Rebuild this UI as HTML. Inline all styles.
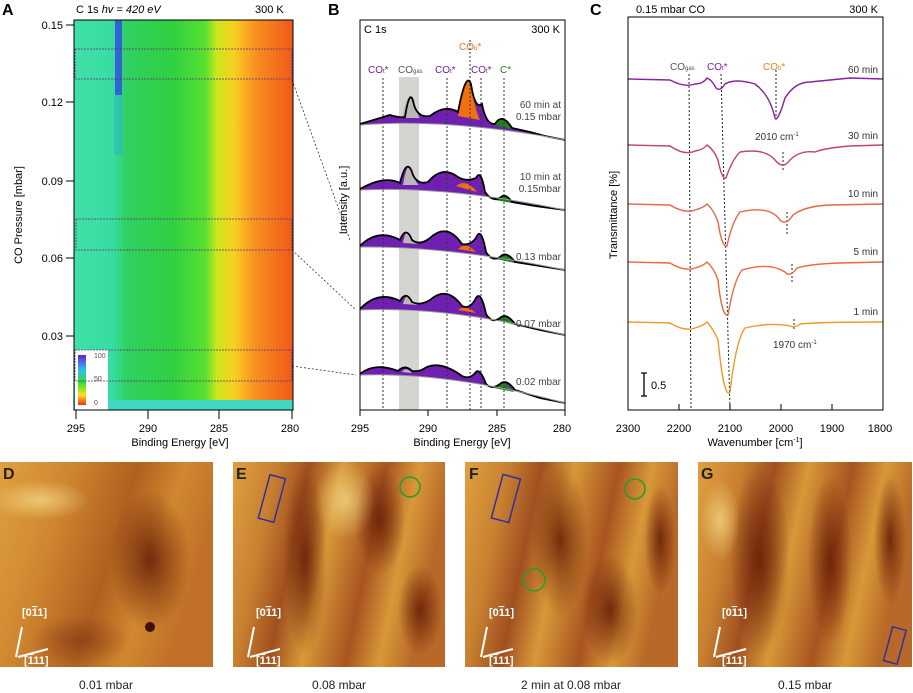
<!DOCTYPE html>
<html><head><meta charset="utf-8"><style>
body{margin:0;background:#fff;}
svg{display:block;font-family:"Liberation Sans",sans-serif;}
</style></head><body>
<svg width="913" height="693" viewBox="0 0 913 693" xmlns="http://www.w3.org/2000/svg">
<defs>
<linearGradient id="hm" x1="0" x2="1" y1="0" y2="0">
<stop offset="0" stop-color="#40e0a8"/>
<stop offset="0.18" stop-color="#38dca0"/>
<stop offset="0.24" stop-color="#30d060"/>
<stop offset="0.45" stop-color="#30d040"/>
<stop offset="0.6" stop-color="#58e030"/>
<stop offset="0.65" stop-color="#c8e820"/>
<stop offset="0.73" stop-color="#f8d020"/>
<stop offset="0.83" stop-color="#f89020"/>
<stop offset="1" stop-color="#f05818"/>
</linearGradient>
<linearGradient id="cb" x1="0" x2="0" y1="0" y2="1">
<stop offset="0" stop-color="#6020d0"/><stop offset="0.3" stop-color="#30c0f0"/><stop offset="0.55" stop-color="#30e030"/><stop offset="0.8" stop-color="#f8e020"/><stop offset="1" stop-color="#f03010"/>
</linearGradient>
<linearGradient id="stm1" x1="0" x2="1" y1="0" y2="0.3">
<stop offset="0" stop-color="#e0a040"/><stop offset="0.3" stop-color="#d08830"/><stop offset="0.6" stop-color="#b06020"/><stop offset="0.8" stop-color="#d08830"/><stop offset="1" stop-color="#c07028"/>
</linearGradient>
<linearGradient id="stm2" x1="0" x2="1" y1="0" y2="0.2">
<stop offset="0" stop-color="#e0a040"/><stop offset="0.2" stop-color="#c88030"/><stop offset="0.35" stop-color="#a05020"/><stop offset="0.5" stop-color="#d89838"/><stop offset="0.7" stop-color="#a85420"/><stop offset="0.85" stop-color="#d89838"/><stop offset="1" stop-color="#b86828"/>
</linearGradient>
<radialGradient id="dk"><stop offset="0" stop-color="#6a2006" stop-opacity="0.9"/><stop offset="1" stop-color="#6a2006" stop-opacity="0"/></radialGradient>
<radialGradient id="lt"><stop offset="0" stop-color="#f8e090" stop-opacity="0.7"/><stop offset="1" stop-color="#f8e090" stop-opacity="0"/></radialGradient>
</defs>

<!-- Panel A -->
<text x="2" y="15" font-size="16" font-weight="bold">A</text>
<text x="76" y="13" font-size="11">C 1s  <tspan font-style="italic">hv = 420 eV</tspan></text>
<text x="255" y="13" font-size="11">300 K</text>
<rect x="74" y="20" width="219" height="390" fill="url(#hm)"/>
<rect x="115" y="20" width="7" height="75" fill="#3050e0" opacity="0.85"/>
<rect x="114" y="95" width="9" height="60" fill="#30a0f0" opacity="0.35"/>
<rect x="108" y="400" width="185" height="10" fill="#40d8c0"/>
<rect x="75" y="350" width="33" height="60" fill="#fff"/>
<rect x="78" y="355" width="8" height="50" fill="url(#cb)"/>
<text x="94" y="358" font-size="7" fill="#555">100</text>
<text x="94" y="381" font-size="7" fill="#555">50</text>
<text x="94" y="405" font-size="7" fill="#555">0</text>
<g fill="none" stroke="#603080" stroke-dasharray="2,1" stroke-width="0.8">
<rect x="75" y="49" width="217" height="30"/>
<rect x="76" y="219" width="216" height="31"/>
<rect x="75" y="350" width="217" height="31"/>
</g>
<g fill="none" stroke="#333" stroke-dasharray="2,2" stroke-width="0.8">
<path d="M292 80 L350 240"/><path d="M292 250 L356 310"/><path d="M292 366 L356 375"/>
</g>
<rect x="74" y="20" width="219" height="390" fill="none" stroke="#000"/>
<g stroke="#000">
<path d="M66 25h8M66 102h8M66 181h8M66 258h8M66 336h8"/>
<path d="M76 410v9M148 410v9M219 410v9M292 410v9"/>
</g>
<g font-size="11" text-anchor="end"><text x="63" y="29">0.15</text><text x="63" y="106">0.12</text><text x="63" y="185">0.09</text><text x="63" y="262">0.06</text><text x="63" y="340">0.03</text></g>
<g font-size="11" text-anchor="middle"><text x="76" y="432">295</text><text x="148" y="432">290</text><text x="219" y="432">285</text><text x="290" y="432">280</text></g>
<text x="180" y="446" font-size="11" text-anchor="middle">Binding Energy [eV]</text>
<text transform="translate(22,215) rotate(-90)" font-size="11" text-anchor="middle">CO Pressure [mbar]</text>

<!-- Panel B -->
<text x="328" y="15" font-size="16" font-weight="bold">B</text>
<rect x="399" y="77" width="20" height="333" fill="#d4d4d0"/>
<g font-size="10">
<text x="368" y="73" fill="#7020a0">CO<tspan font-size="6">t</tspan>*</text>
<text x="398" y="73" fill="#555">CO<tspan font-size="6">gas</tspan></text>
<text x="435" y="73" fill="#7020a0">CO<tspan font-size="6">t</tspan>*</text>
<text x="459" y="50" fill="#f07020">CO<tspan font-size="6">b</tspan>*</text>
<text x="471" y="73" fill="#7020a0">CO<tspan font-size="6">t</tspan>*</text>
<text x="500" y="73" fill="#208020">C*</text>
</g>
<!-- spectra fills: curve + reversed baseline -->
<g stroke="none">
<path d="M360 124 Q380 118 390 115 Q400 118 405 117 Q410 85 414 105 Q418 118 430 116 Q445 104 458 112 Q466 70 471 84 Q475 110 482 104 Q486 125 495 124 Q502 112 512 128 L565 140 Q450 118 360 125 Z" fill="#7020b0"/>
<path d="M360 189 Q385 175 400 183 Q407 155 413 175 Q418 185 428 182 Q442 165 458 177 Q466 182 476 178 Q481 168 485 192 Q492 202 500 198 Q505 192 512 202 L565 210 Q450 186 360 190 Z" fill="#7020b0"/>
<path d="M360 246 Q378 228 400 240 Q406 225 412 240 Q420 246 430 238 Q447 222 462 244 Q470 246 476 238 Q481 225 486 252 Q492 262 500 257 Q506 250 515 262 L565 270 Q450 246 360 247 Z" fill="#7020b0"/>
<path d="M360 309 Q378 290 400 301 Q406 290 412 302 Q420 306 430 300 Q447 285 462 306 Q470 310 476 298 Q481 290 486 314 Q492 324 500 318 Q506 312 515 324 L565 335 Q450 306 360 310 Z" fill="#7020b0"/>
<path d="M360 374 Q375 362 398 371 Q405 364 412 371 Q420 372 425 368 Q440 360 462 376 Q470 380 476 372 Q480 368 486 384 Q492 390 500 384 Q506 378 515 390 L565 403 Q450 372 360 375 Z" fill="#7020b0"/>
</g>
<!-- gray/orange/green/white overlays -->
<g stroke="none">
<rect x="360" y="100" width="30" height="30" fill="#fff" opacity="0"/>
<path d="M402 118 Q409 85 414 100 Q418 117 420 118 Z" fill="#b8b8b8"/>
<path d="M458 116 Q466 70 471 84 Q475 110 480 120 Z" fill="#f07010"/>
<path d="M493 125 Q502 112 512 129 Z" fill="#208020"/>
<path d="M403 185 Q408 155 413 172 Q416 184 419 185 Z" fill="#b8b8b8"/>
<path d="M456 186 Q466 178 477 192 Z" fill="#f07010"/>
<path d="M495 200 Q504 191 512 203 Z" fill="#208020"/>
<path d="M403 243 Q406 226 411 236 Q414 243 418 244 Z" fill="#b8b8b8"/>
<path d="M458 249 Q466 241 476 252 Z" fill="#f07010"/>
<path d="M496 259 Q505 250 515 263 Z" fill="#208020"/>
<path d="M403 304 Q406 292 411 299 Q414 304 418 305 Z" fill="#b8b8b8"/>
<path d="M458 310 Q466 304 476 313 Z" fill="#f07010"/>
<path d="M496 320 Q505 312 515 325 Z" fill="#208020"/>
<path d="M402 372 Q406 366 412 373 Z" fill="#b8b8b8"/>
<path d="M494 388 Q504 378 514 392 Z" fill="#208020"/>
</g>
<g stroke="#333" stroke-dasharray="2,2" fill="none">
<path d="M383 78V410M447 78V410M470 40V410M481 78V410M504 78V410"/>
</g>
<g stroke-width="1.8" fill="none" stroke="#000">
<path d="M360 124 Q380 118 390 115 Q400 118 405 117 Q410 85 414 105 Q418 118 430 116 Q445 104 458 112 Q466 70 471 84 Q475 110 482 104 Q486 125 495 124 Q502 112 512 128 L530 132 L545 136 L565 140"/>
<path d="M360 125 Q450 118 565 140" stroke="#999" stroke-width="1"/>
<path d="M360 189 Q385 175 400 183 Q407 155 413 175 Q418 185 428 182 Q442 165 458 177 Q466 182 476 178 Q481 168 485 192 Q492 202 500 198 Q505 192 512 202 L535 206 L565 210"/>
<path d="M360 190 Q450 186 565 210" stroke="#999" stroke-width="1"/>
<path d="M360 246 Q378 228 400 240 Q406 225 412 240 Q420 246 430 238 Q447 222 462 244 Q470 246 476 238 Q481 225 486 252 Q492 262 500 257 Q506 250 515 262 L540 266 L565 270"/>
<path d="M360 247 Q450 246 565 270" stroke="#999" stroke-width="1"/>
<path d="M360 309 Q378 290 400 301 Q406 290 412 302 Q420 306 430 300 Q447 285 462 306 Q470 310 476 298 Q481 290 486 314 Q492 324 500 318 Q506 312 515 324 L540 330 L565 335"/>
<path d="M360 310 Q450 306 565 335" stroke="#999" stroke-width="1"/>
<path d="M360 374 Q375 362 398 371 Q405 364 412 371 Q420 372 425 368 Q440 360 462 376 Q470 380 476 372 Q480 368 486 384 Q492 390 500 384 Q506 378 515 390 L540 398 L565 403"/>
<path d="M360 375 Q450 372 565 403" stroke="#999" stroke-width="1"/>
</g>
<g font-size="10" fill="#444" text-anchor="end">
<text x="561" y="108">60 min at</text><text x="561" y="120">0.15 mbar</text>
<text x="561" y="180">10 min at</text><text x="561" y="192">0.15mbar</text>
<text x="561" y="260">0.13 mbar</text>
<text x="561" y="327">0.07 mbar</text>
<text x="561" y="385">0.02 mbar</text>
</g>
<rect x="360" y="20" width="205" height="390" fill="none" stroke="#000"/>
<text x="364" y="33" font-size="11">C 1s</text>
<text x="560" y="33" font-size="11" text-anchor="end">300 K</text>
<text transform="translate(347,200) rotate(-90)" font-size="11" text-anchor="middle">Intensity [a.u.]</text>
<g stroke="#000"><path d="M360 410v6M428 410v6M497 410v6M565 410v6"/></g>
<g font-size="11" text-anchor="middle"><text x="360" y="432">295</text><text x="428" y="432">290</text><text x="497" y="432">285</text><text x="562" y="432">280</text></g>
<text x="462" y="446" font-size="11" text-anchor="middle">Binding Energy [eV]</text>

<!-- Panel C -->
<text x="590" y="15" font-size="16" font-weight="bold">C</text>
<text x="636" y="13" font-size="11">0.15 mbar CO</text>
<text x="878" y="13" font-size="11" text-anchor="end">300 K</text>
<g stroke="#222" stroke-dasharray="2,2" fill="none">
<path d="M689 74L691 410M721 74L730 410M776 70V122M783 152V170M787 212V235M792 264V284M794 319V330"/>
</g>
<g font-size="10">
<text x="670" y="70" fill="#555">CO<tspan font-size="6">gas</tspan></text>
<text x="707" y="70" fill="#8020a0">CO<tspan font-size="6">t</tspan>*</text>
<text x="763" y="70" fill="#f08020">CO<tspan font-size="6">b</tspan>*</text>
<text x="755" y="140" fill="#333">2010 cm<tspan font-size="6" dy="-4">-1</tspan></text>
<text x="773" y="348" fill="#333">1970 cm<tspan font-size="6" dy="-4">-1</tspan></text>
</g>
<g font-size="10" fill="#333" text-anchor="end">
<text x="878" y="73">60 min</text><text x="878" y="139">30 min</text><text x="878" y="197">10 min</text><text x="878" y="255">5 min</text><text x="878" y="315">1 min</text>
</g>
<g fill="none" stroke-width="1.4">
<path d="M628 79 L670 80 Q685 88 695 84 Q703 84 707 78 Q712 80 716 88 Q720 92 725 84 Q735 78 755 84 Q770 95 775 118 Q778 122 785 98 Q795 82 810 82 L850 78 L883 79" stroke="#8a20a0"/>
<path d="M628 145 L670 146 Q685 156 695 151 Q703 150 707 145 Q714 150 718 160 Q722 180 726 178 Q732 160 740 152 Q765 148 775 160 Q783 170 790 160 Q800 150 815 152 Q825 148 850 146 L883 145" stroke="#c04860"/>
<path d="M628 204 L670 205 Q685 214 695 210 Q703 208 707 204 Q714 210 718 222 Q722 248 727 246 Q732 222 740 212 Q770 205 780 220 Q786 226 793 215 Q805 206 830 205 L883 204" stroke="#e06848"/>
<path d="M628 262 L670 263 Q685 272 695 268 Q703 266 707 262 Q714 268 718 280 Q722 318 728 315 Q734 280 742 270 Q770 262 785 272 Q790 278 797 268 Q810 264 840 263 L883 262" stroke="#e86a40"/>
<path d="M628 322 L670 323 Q685 332 695 328 Q703 326 707 322 Q714 330 718 340 Q724 400 730 392 Q736 340 745 328 Q770 322 790 326 Q795 328 800 324 Q820 322 883 322" stroke="#f0982a"/>
</g>
<path d="M644 373v23M641 373h6M641 396h6" stroke="#000" stroke-width="1.3"/>
<text x="651" y="389" font-size="11">0.5</text>
<rect x="628" y="17" width="255" height="393" fill="none" stroke="#000"/>
<g stroke="#000"><path d="M628 410v-6M679 410v-6M730 410v-6M781 410v-6M832 410v-6M883 410v-6"/></g>
<g font-size="11" text-anchor="middle"><text x="628" y="432">2300</text><text x="679" y="432">2200</text><text x="730" y="432">2100</text><text x="781" y="432">2000</text><text x="832" y="432">1900</text><text x="880" y="432">1800</text></g>
<text x="755" y="446" font-size="11" text-anchor="middle">Wavenumber [cm<tspan font-size="7" dy="-4">-1</tspan><tspan dy="4">]</tspan></text>
<text transform="translate(617,215) rotate(-90)" font-size="11" text-anchor="middle">Transmittance [%]</text>

<!-- STM images -->
<g>
<rect x="0" y="462" width="213" height="205" fill="url(#stm1)"/>
<ellipse cx="150" cy="560" rx="40" ry="70" fill="url(#dk)"/>
<ellipse cx="80" cy="640" rx="50" ry="25" fill="url(#dk)" opacity="0.5"/>
<ellipse cx="40" cy="500" rx="50" ry="20" fill="url(#lt)"/>
<circle cx="150" cy="627" r="5" fill="#401000"/>
</g>
<g>
<rect x="233" y="462" width="212" height="205" fill="url(#stm2)"/>
<ellipse cx="305" cy="560" rx="22" ry="95" fill="url(#dk)"/>
<ellipse cx="380" cy="520" rx="25" ry="55" fill="url(#dk)"/>
<ellipse cx="420" cy="610" rx="22" ry="45" fill="url(#dk)"/>
<ellipse cx="345" cy="500" rx="30" ry="40" fill="url(#lt)"/>
<rect x="264" y="476" width="16" height="45" transform="rotate(15 272 498)" fill="none" stroke="#3030a0" stroke-width="1.5"/>
<circle cx="410" cy="487" r="10" fill="none" stroke="#20a030" stroke-width="1.5"/>
</g>
<g>
<rect x="465" y="462" width="213" height="205" fill="url(#stm2)"/>
<ellipse cx="560" cy="540" rx="28" ry="75" fill="url(#dk)"/>
<ellipse cx="610" cy="610" rx="28" ry="55" fill="url(#dk)"/>
<ellipse cx="660" cy="540" rx="16" ry="55" fill="url(#dk)"/>
<rect x="497" y="476" width="18" height="45" transform="rotate(15 506 498)" fill="none" stroke="#3030a0" stroke-width="1.5"/>
<circle cx="635" cy="489" r="10" fill="none" stroke="#20a030" stroke-width="1.5"/>
<circle cx="534" cy="580" r="11" fill="none" stroke="#20a030" stroke-width="1.5"/>
</g>
<g>
<rect x="698" y="462" width="214" height="205" fill="url(#stm2)"/>
<ellipse cx="760" cy="560" rx="30" ry="95" fill="url(#dk)"/>
<ellipse cx="830" cy="560" rx="22" ry="85" fill="url(#dk)"/>
<ellipse cx="890" cy="540" rx="16" ry="65" fill="url(#dk)"/>
<ellipse cx="720" cy="520" rx="20" ry="40" fill="url(#lt)"/>
<rect x="888" y="628" width="14" height="35" transform="rotate(15 895 645)" fill="none" stroke="#3030a0" stroke-width="1.5"/>
</g>
<g font-size="16" font-weight="bold" fill="#222"><text x="3" y="479">D</text><text x="236" y="479">E</text><text x="469" y="479">F</text><text x="701" y="479">G</text></g>
<g stroke="#fff" stroke-width="2" fill="none">
<path d="M16 657L22 627M18 657L48 649"/><path d="M248 657L254 627M250 657L280 649"/><path d="M481 657L487 627M483 657L513 649"/><path d="M714 657L720 627M716 657L746 649"/>
</g>
<g font-size="11" font-weight="bold" fill="#fff">
<text x="22" y="616">[0<tspan text-decoration="overline">1</tspan>1]</text><text x="24" y="664">[<tspan text-decoration="overline">1</tspan>11]</text>
<text x="256" y="616">[0<tspan text-decoration="overline">1</tspan>1]</text><text x="256" y="664">[<tspan text-decoration="overline">1</tspan>11]</text>
<text x="489" y="616">[0<tspan text-decoration="overline">1</tspan>1]</text><text x="489" y="664">[<tspan text-decoration="overline">1</tspan>11]</text>
<text x="722" y="616">[0<tspan text-decoration="overline">1</tspan>1]</text><text x="722" y="664">[<tspan text-decoration="overline">1</tspan>11]</text>
</g>
<g font-size="12" fill="#222" text-anchor="middle">
<text x="106" y="689">0.01 mbar</text><text x="339" y="689">0.08 mbar</text><text x="571" y="689">2 min at 0.08 mbar</text><text x="805" y="689">0.15 mbar</text>
</g>
</svg>
</body></html>
